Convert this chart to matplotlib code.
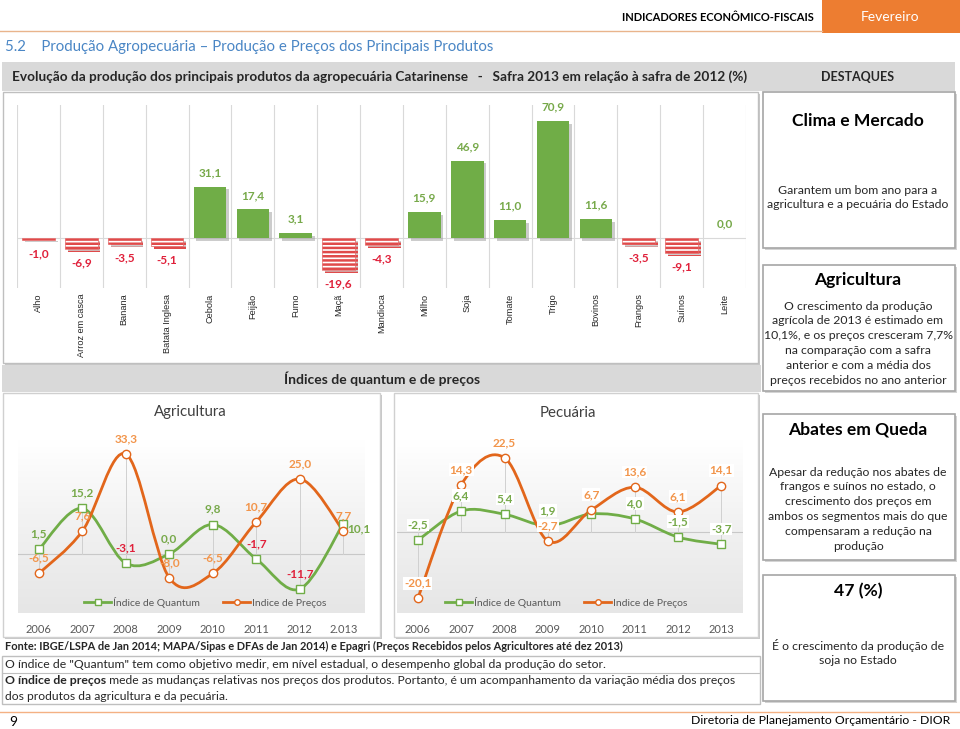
import numpy as np
import matplotlib
matplotlib.use('Agg')
import matplotlib.pyplot as plt
import matplotlib.patheffects as pe
from matplotlib.path import Path
from matplotlib.patches import Rectangle, PathPatch
from matplotlib.colors import LinearSegmentedColormap
from matplotlib.lines import Line2D

plt.rcParams['font.family'] = ['Lato', 'DejaVu Sans']
plt.rcParams['hatch.linewidth'] = 1.8

W, H = 960, 729

# ---- dados ----
produtos = ['Alho', 'Arroz em casca', 'Banana', 'Batata Inglesa', 'Cebola', 'Feijão', 'Fumo',
            'Maçã', 'Mandioca', 'Milho', 'Soja', 'Tomate', 'Trigo', 'Bovinos', 'Frangos',
            'Suínos', 'Leite']
variacao = [-1.0, -6.9, -3.5, -5.1, 31.1, 17.4, 3.1, -19.6, -4.3, 15.9, 46.9, 11.0, 70.9,
            11.6, -3.5, -9.1, 0.0]

anos_agri = ['2006', '2007', '2008', '2009', '2010', '2011', '2012', '2.013']
anos_pec = ['2006', '2007', '2008', '2009', '2010', '2011', '2012', '2013']
agri_quantum = [1.5, 15.2, -3.1, 0.0, 9.8, -1.7, -11.7, 10.1]
agri_precos = [-6.5, 7.6, 33.3, -8.0, -6.5, 10.7, 25.0, 7.7]
pec_quantum = [-2.5, 6.4, 5.4, 1.9, 5.5, 4.0, -1.5, -3.7]
pec_precos = [-20.1, 14.3, 22.5, -2.7, 6.7, 13.6, 6.1, 14.1]

GREEN = '#70ad47'
GREEN_TXT = '#77a94a'
ORANGE = '#e2661b'
ORANGE_TXT = '#f2954b'
RED = '#e0203a'
DARK = '#262626'


def fmt(v):
    return f'{v:.1f}'.replace('.', ',')


fig = plt.figure(figsize=(W / 100, H / 100), dpi=100)
bg = fig.add_axes([0, 0, 1, 1])
bg.set_xlim(0, W)
bg.set_ylim(H, 0)
bg.axis('off')


def px_axes(x, y, w, h):
    return fig.add_axes([x / W, 1 - (y + h) / H, w / W, h / H])


def box(x, y, w, h, fc='white', ec='#bfbfbf', lw=1.0, shadow=True, sc='#c8c8c8'):
    if shadow:
        bg.add_patch(Rectangle((x + 2, y + 2), w, h, fc=sc, ec='none'))
    bg.add_patch(Rectangle((x, y), w, h, fc=fc, ec=ec, lw=lw))


# ---- cabecalho ----
bg.add_patch(Rectangle((822, 0), 138, 33, fc='#ed7d31', ec='none'))
bg.text(890, 17, 'Fevereiro', color='white', fontsize=10, ha='center', va='center')
bg.text(814, 17, 'INDICADORES ECONÔMICO-FISCAIS', color='black', fontsize=8,
        fontweight='bold', ha='right', va='center')
bg.plot([0, 822], [31, 31], color='#e9b48c', lw=1)
bg.text(5, 47, '5.2    Produção Agropecuária – Produção e Preços dos Principais Produtos',
        color='#4a86c5', fontsize=10.8, ha='left', va='center')

bg.add_patch(Rectangle((2, 62), 953, 29, fc='#d9d9d9', ec='none'))
bg.text(12, 77, 'Evolução da produção dos principais produtos da agropecuária Catarinense   -   '
        'Safra 2013 em relação à safra de 2012 (%)', fontsize=9.8, fontweight='bold',
        color=DARK, ha='left', va='center')
bg.text(858, 77, 'DESTAQUES', fontsize=9, fontweight='bold', color=DARK, ha='center',
        va='center')

# ---- grafico de barras ----
box(3, 92, 755, 271)
ax = px_axes(17, 105, 729, 183)
x = np.arange(len(produtos))
cores = [GREEN if v >= 0 else 'white' for v in variacao]
bars = ax.bar(x, variacao, width=0.76, color=cores, zorder=3)
for b, v in zip(bars, variacao):
    b.set_path_effects([pe.SimplePatchShadow(offset=(2, -2), shadow_rgbFace='#9a9a9a',
                                             alpha=0.5), pe.Normal()])
    if v < 0:
        b.set_hatch('----')
        b.set_edgecolor('#e04a4a')
        b.set_linewidth(0.4)
for xi, v in zip(x, variacao):
    if v >= 0:
        ax.annotate(fmt(v), (xi, v), xytext=(0, 10), textcoords='offset points',
                    ha='center', va='center', color=GREEN_TXT, fontsize=8.5,
                    fontweight='bold')
    else:
        ax.annotate(fmt(v), (xi, v), xytext=(0, -10), textcoords='offset points',
                    ha='center', va='center', color=RED, fontsize=8.5, fontweight='bold')
ax.set_xlim(-0.5, len(produtos) - 0.5)
ax.set_ylim(-30.3, 80.6)
for b in np.arange(-0.5, len(produtos)):
    ax.axvline(b, color='#d9d9d9', lw=0.8, zorder=1)
ax.axhline(0, color='#d9d9d9', lw=0.8, zorder=1)
ax.set_xticks(x)
ax.set_xticklabels(produtos, rotation=90, fontsize=6.6, color=DARK,
                   family=['Liberation Sans', 'DejaVu Sans'])
ax.tick_params(axis='x', length=0, pad=4)
ax.set_yticks([])
for s in ax.spines.values():
    s.set_visible(False)
ax.patch.set_alpha(0)

# ---- faixa indices ----
bg.add_patch(Rectangle((2, 365), 759, 27, fc='#d9d9d9', ec='none'))
bg.text(382, 379, 'Índices de quantum e de preços', fontsize=10, fontweight='bold',
        color=DARK, ha='center', va='center')


def smooth_path(xs, ys):
    pts = np.column_stack([xs, ys]).astype(float)
    n = len(pts)
    verts = [pts[0]]
    codes = [Path.MOVETO]
    for i in range(n - 1):
        p0 = pts[max(i - 1, 0)]
        p1 = pts[i]
        p2 = pts[i + 1]
        p3 = pts[min(i + 2, n - 1)]
        verts += [p1 + (p2 - p0) / 6, p2 - (p3 - p1) / 6, p2]
        codes += [Path.CURVE4] * 3
    return Path(verts, codes)


grad = LinearSegmentedColormap.from_list('g', ['#ffffff', '#f1f1f1', '#e6e6e6'])


def line_chart(ax, anos, quantum, precos, ylim, qcolors, pcolors, legend_x, label_bg):
    xs = np.arange(len(anos))
    ax.set_xlim(-0.48, 7.5)
    ax.set_ylim(*ylim)
    ax.imshow(np.linspace(0, 1, 200).reshape(-1, 1), cmap=grad, aspect='auto',
              extent=[-0.48, 7.5, ylim[0], ylim[1]], origin='upper', zorder=0)
    ax.axhline(0, color='#c8c8c8', lw=0.8, zorder=1)
    for xi, q, p in zip(xs, quantum, precos):
        ax.plot([xi, xi], [min(0, q, p), max(0, q, p)], color='#d0d0d0', lw=0.7, zorder=1)
    ax.add_patch(PathPatch(smooth_path(xs, quantum), fill=False, ec=GREEN, lw=2, zorder=2))
    ax.add_patch(PathPatch(smooth_path(xs, precos), fill=False, ec=ORANGE, lw=2, zorder=3))
    ax.plot(xs, quantum, ls='none', marker='s', ms=6, mfc='white', mec=GREEN, mew=1,
            zorder=4)
    ax.plot(xs, precos, ls='none', marker='o', ms=6, mfc='white', mec=ORANGE, mew=1,
            zorder=4)
    bbox = dict(fc='white', ec='none', pad=0.6) if label_bg else None
    for i, (q, c) in enumerate(zip(quantum, qcolors)):
        if c is None:
            continue
        off = (11, -4) if i == len(xs) - 1 and not label_bg else (0, 11)
        ax.annotate(fmt(q), (xs[i], q), xytext=off, textcoords='offset points',
                    ha='center', va='center', color=c, fontsize=8.5, fontweight='bold',
                    bbox=bbox, zorder=5, annotation_clip=False)
    for i, (p, c) in enumerate(zip(precos, pcolors)):
        ax.annotate(fmt(p), (xs[i], p), xytext=(0, 11), textcoords='offset points',
                    ha='center', va='center', color=c, fontsize=8.5, fontweight='bold',
                    bbox=bbox, zorder=5, annotation_clip=False)
    handles = [Line2D([], [], color=GREEN, lw=2, marker='s', ms=4, mfc='white', mec=GREEN),
               Line2D([], [], color=ORANGE, lw=2, marker='o', ms=4, mfc='white',
                      mec=ORANGE)]
    ax.legend(handles, ['Índice de Quantum', 'Indice de Preços'], loc='center',
              bbox_to_anchor=(legend_x, 0.06), ncol=2, frameon=False, fontsize=7.5,
              labelcolor='#595959', handlelength=2.6, columnspacing=2.2,
              handletextpad=0.2)
    ax.set_xticks(xs)
    ax.set_xticklabels(anos, fontsize=8, color='#595959')
    ax.tick_params(axis='x', length=0, pad=8)
    ax.set_yticks([])
    for s in ax.spines.values():
        s.set_visible(False)


# Agricultura
box(3, 393, 377, 244, ec='#d0d0d0')
bg.text(190, 412, 'Agricultura', fontsize=10.8, color='#404040', ha='center', va='center')
ax1 = px_axes(18, 440, 347, 173)
line_chart(ax1, anos_agri, agri_quantum, agri_precos, (-19.7, 38.0),
           [GREEN_TXT, GREEN_TXT, RED, GREEN_TXT, GREEN_TXT, RED, RED, GREEN_TXT],
           [ORANGE_TXT] * 8, 0.54, False)

# Pecuaria
box(394, 393, 364, 244, ec='#d0d0d0')
bg.text(568, 413, 'Pecuária', fontsize=10.8, color='#404040', ha='center', va='center')
ax2 = px_axes(397, 440, 346, 173)
line_chart(ax2, anos_pec, pec_quantum, pec_precos, (-24.5, 27.9),
           [GREEN_TXT, GREEN_TXT, GREEN_TXT, GREEN_TXT, None, GREEN_TXT, GREEN_TXT,
            GREEN_TXT],
           [ORANGE_TXT] * 8, 0.49, True)

# ---- destaques ----
def destaque(y, h, titulo, ty, linhas, ly, dy=14.8):
    box(763, y, 192, h, ec='#a6a6a6', lw=1.2, sc='#d4d4d4')
    bg.text(858, ty, titulo, fontsize=12.6, fontweight='bold', color='black', ha='center',
            va='center')
    for i, l in enumerate(linhas):
        bg.text(858, ly + i * dy, l, fontsize=8.8, color=DARK, ha='center', va='center')


destaque(92, 156, 'Clima e Mercado', 121,
         ['Garantem um bom ano para a', 'agricultura e a pecuária do Estado'], 190)
destaque(265, 126, 'Agricultura', 280,
         ['O crescimento da produção', 'agrícola de 2013 é estimado em',
          '10,1%, e os preços cresceram 7,7%', 'na comparação com a safra',
          'anterior e com a média dos', 'preços recebidos no ano anterior'], 306)
destaque(414, 146, 'Abates em Queda', 429,
         ['Apesar da redução nos abates de', 'frangos e suínos no estado, o',
          'crescimento dos preços em', 'ambos os segmentos mais do que',
          'compensaram a redução na', 'produção'], 472)
destaque(575, 126, '47 (%)', 591,
         ['É o crescimento da produção de', 'soja no Estado'], 646)

# ---- notas ----
bg.text(5, 646, 'Fonte: IBGE/LSPA de Jan 2014; MAPA/Sipas e DFAs de Jan 2014) e Epagri '
        '(Preços Recebidos pelos Agricultores até dez 2013)', fontsize=7.9, fontweight='bold',
        color=DARK, ha='left', va='center')
bg.add_patch(Rectangle((2, 656), 758, 48, fc='white', ec='#bfbfbf', lw=1))
bg.plot([2, 760], [673, 673], color='#bfbfbf', lw=0.8)
bg.text(5, 665, 'O índice de "Quantum" tem como objetivo medir, em nível estadual, o '
        'desempenho global da produção do setor.', fontsize=8.8, color=DARK, ha='left',
        va='center')
t_bold = bg.text(5, 681, 'O índice de preços', fontsize=8.8, fontweight='bold', color=DARK,
                 ha='left', va='center')
bg.annotate(' mede as mudanças relativas nos preços dos produtos. Portanto, é um '
            'acompanhamento da variação média dos preços', xy=(1, 0.5), xycoords=t_bold,
            fontsize=8.7, color=DARK, ha='left', va='center')
bg.text(5, 696, 'dos produtos da agricultura e da pecuária.', fontsize=8.7, color=DARK,
        ha='left', va='center')

# ---- rodape ----
bg.plot([0, 960], [712, 712], color='#f4b183', lw=1)
bg.text(9, 722, '9', fontsize=10, color='black', ha='left', va='center')
bg.text(950, 721, 'Diretoria de Planejamento Orçamentário - DIOR', fontsize=8.8,
        color='black', ha='right', va='center')

fig.savefig('out.png', dpi=100)
